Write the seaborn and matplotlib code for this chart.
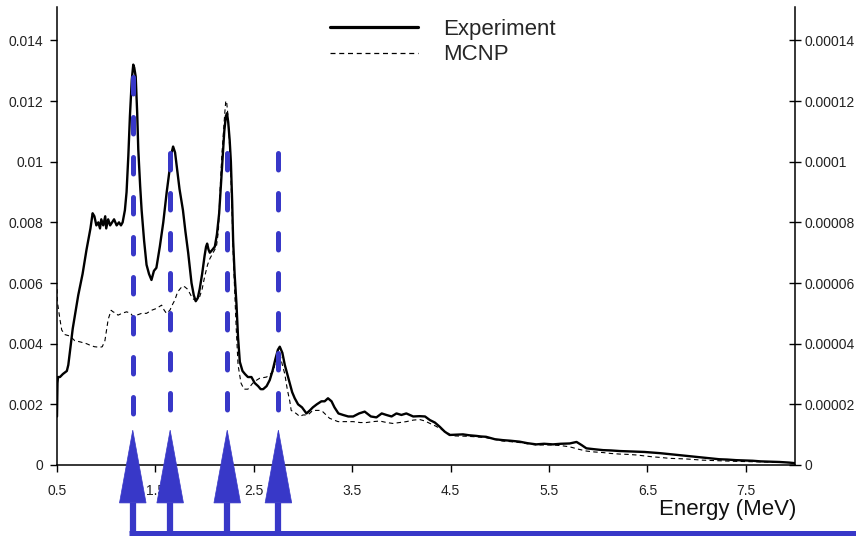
import matplotlib
matplotlib.use("Agg")
import matplotlib.pyplot as plt
import pandas as pd
import seaborn as sns
from matplotlib.patches import Polygon
from matplotlib.lines import Line2D

# ---------------- data ----------------
exp_energy = [
    0.50, 0.505, 0.51, 0.53, 0.56, 0.60, 0.615, 0.66, 0.716, 0.76,
    0.80, 0.84, 0.862, 0.88, 0.90, 0.92, 0.937, 0.95, 0.97, 0.99,
    1.00, 1.02, 1.04, 1.06, 1.08, 1.106, 1.13, 1.15, 1.167, 1.19,
    1.207, 1.225, 1.241, 1.26, 1.275, 1.285, 1.30, 1.315, 1.326, 1.345,
    1.36, 1.385, 1.41, 1.435, 1.46, 1.485, 1.51, 1.545, 1.58, 1.615,
    1.647, 1.665, 1.68, 1.70, 1.715, 1.745, 1.78, 1.805, 1.833, 1.85,
    1.867, 1.89, 1.91, 1.93, 1.95, 1.975, 2.0, 2.015, 2.026, 2.04,
    2.053, 2.08, 2.104, 2.125, 2.148, 2.165, 2.182, 2.20, 2.216, 2.228,
    2.24, 2.255, 2.267, 2.28, 2.29, 2.305, 2.324, 2.34, 2.358, 2.385,
    2.41, 2.44, 2.476, 2.51, 2.544, 2.57, 2.595, 2.63, 2.662, 2.69,
    2.72, 2.745, 2.764, 2.79, 2.815, 2.84, 2.866, 2.89, 2.916, 2.95,
    2.99, 3.035, 3.07, 3.10, 3.14, 3.187, 3.22, 3.254, 3.29, 3.32,
    3.36, 3.407, 3.46, 3.51, 3.57, 3.627, 3.69, 3.746, 3.80, 3.847,
    3.90, 3.95, 4.00, 4.05, 4.12, 4.185, 4.24, 4.29, 4.34, 4.39,
    4.44, 4.49, 4.56, 4.625, 4.69, 4.76, 4.81, 4.86, 4.95, 5.03,
    5.11, 5.20, 5.28, 5.37, 5.45, 5.54, 5.62, 5.71, 5.78, 5.83,
    5.88, 5.96, 6.05, 6.13, 6.22, 6.30, 6.39, 6.47, 6.55, 6.63,
    6.72, 6.80, 6.89, 6.97, 7.06, 7.14, 7.23, 7.31, 7.40, 7.48,
    7.57, 7.65, 7.74, 7.84, 7.94, 8.00,
]
exp_counts = [
    0.0016, 0.0027, 0.0029, 0.0029, 0.0030, 0.0031, 0.0033, 0.0045, 0.0056, 0.0063,
    0.0071, 0.0078, 0.0083, 0.0082, 0.0079, 0.0080, 0.0078, 0.0081, 0.0079, 0.0082,
    0.0078, 0.0081, 0.0079, 0.0080, 0.0081, 0.0079, 0.0080, 0.0079, 0.0080, 0.0084,
    0.0090, 0.0102, 0.0115, 0.0127, 0.0132, 0.0131, 0.0128, 0.0116, 0.0104, 0.0092,
    0.0084, 0.0074, 0.0066, 0.0063, 0.0061, 0.0064, 0.0065, 0.0072, 0.0080, 0.0090,
    0.0098, 0.0103, 0.0105, 0.0103, 0.0099, 0.0091, 0.0084, 0.0077, 0.0070, 0.0065,
    0.0060, 0.0056, 0.0054, 0.0055, 0.0058, 0.0063, 0.0069, 0.0072, 0.0073, 0.0071,
    0.0070, 0.0071, 0.0072, 0.0076, 0.0083, 0.0092, 0.0101, 0.0110, 0.0115, 0.0116,
    0.0113, 0.0107, 0.0100, 0.0087, 0.0074, 0.0063, 0.0053, 0.0042, 0.0034, 0.0031,
    0.0030, 0.0029, 0.0029, 0.0027, 0.0026, 0.0025, 0.0025, 0.0026, 0.0028, 0.0031,
    0.0035, 0.0038, 0.0039, 0.0037, 0.0033, 0.0030, 0.0027, 0.0024, 0.0022, 0.0020,
    0.0019, 0.0017, 0.0018, 0.0019, 0.0020, 0.0021, 0.0021, 0.0022, 0.0021, 0.0019,
    0.0017, 0.00165, 0.0016, 0.0016, 0.0017, 0.00176, 0.0016, 0.00157, 0.0017, 0.00165,
    0.0016, 0.0017, 0.00165, 0.0017, 0.0016, 0.00161, 0.0016, 0.00148, 0.0014, 0.00126,
    0.0011, 0.00099, 0.0010, 0.00101, 0.00098, 0.00096, 0.00094, 0.00093, 0.00085, 0.00082,
    0.00080, 0.00077, 0.00072, 0.00068, 0.00070, 0.00068, 0.00070, 0.00071, 0.00076, 0.00066,
    0.00055, 0.00052, 0.00049, 0.00048, 0.00046, 0.00045, 0.00044, 0.00043, 0.00041, 0.00039,
    0.00036, 0.00033, 0.00030, 0.00028, 0.00025, 0.00022, 0.00019, 0.00018, 0.00016, 0.00015,
    0.00014, 0.00012, 0.00011, 0.00010, 0.00008, 0.00006,
]

mcnp_energy = [
    0.50, 0.503, 0.53, 0.548, 0.58, 0.632, 0.68, 0.734, 0.80, 0.835,
    0.88, 0.937, 0.96, 0.987, 1.02, 1.05, 1.07, 1.10, 1.12, 1.16,
    1.207, 1.25, 1.27, 1.31, 1.36, 1.41, 1.46, 1.51, 1.563, 1.59,
    1.613, 1.647, 1.675, 1.698, 1.725, 1.749, 1.775, 1.80, 1.825, 1.85,
    1.875, 1.90, 1.925, 1.95, 1.975, 2.0, 2.03, 2.053, 2.087, 2.12,
    2.14, 2.155, 2.175, 2.19, 2.205, 2.215, 2.223, 2.235, 2.25, 2.265,
    2.28, 2.29, 2.305, 2.32, 2.34, 2.37, 2.40, 2.44, 2.49, 2.53,
    2.56, 2.63, 2.67, 2.70, 2.725, 2.747, 2.77, 2.79, 2.815, 2.84,
    2.866, 2.88, 2.93, 2.967, 3.0, 3.05, 3.10, 3.136, 3.17, 3.2,
    3.27, 3.356, 3.43, 3.51, 3.58, 3.645, 3.71, 3.78, 3.85, 3.914,
    3.98, 4.05, 4.12, 4.185, 4.24, 4.29, 4.35, 4.42, 4.52, 4.64,
    4.76, 4.86, 4.95, 5.03, 5.11, 5.20, 5.28, 5.37, 5.45, 5.54,
    5.62, 5.71, 5.80, 5.88, 5.96, 6.05, 6.13, 6.22, 6.30, 6.39,
    6.47, 6.55, 6.63, 6.72, 6.80, 6.89, 6.97, 7.06, 7.14, 7.23,
    7.31, 7.40, 7.48, 7.57, 7.65, 7.74, 7.84, 7.94, 8.00,
]
mcnp_flux = [
    5.8e-5, 5.4e-5, 4.8e-5, 4.45e-5, 4.3e-5, 4.25e-5, 4.1e-5, 4.06e-5, 4.0e-5, 3.95e-5,
    3.9e-5, 3.88e-5, 3.9e-5, 4.1e-5, 4.8e-5, 5.1e-5, 5.05e-5, 5.0e-5, 4.94e-5, 5.0e-5,
    5.05e-5, 5.0e-5, 4.9e-5, 4.94e-5, 5.0e-5, 5.0e-5, 5.1e-5, 5.16e-5, 5.27e-5, 5.1e-5,
    5.0e-5, 5.1e-5, 5.3e-5, 5.44e-5, 5.7e-5, 5.8e-5, 5.9e-5, 5.87e-5, 5.8e-5, 5.66e-5,
    5.5e-5, 5.44e-5, 5.5e-5, 5.55e-5, 5.8e-5, 6.2e-5, 6.6e-5, 6.8e-5, 7.0e-5, 7.2e-5,
    7.7e-5, 8.9e-5, 10.2e-5, 10.9e-5, 11.6e-5, 12.0e-5, 12.0e-5, 11.6e-5, 10.8e-5, 9.7e-5,
    8.2e-5, 7.0e-5, 5.8e-5, 4.6e-5, 3.3e-5, 2.7e-5, 2.5e-5, 2.5e-5, 2.7e-5, 2.8e-5,
    2.86e-5, 2.9e-5, 3.0e-5, 3.1e-5, 3.5e-5, 3.8e-5, 3.6e-5, 3.3e-5, 3.0e-5, 2.5e-5,
    2.1e-5, 1.8e-5, 1.7e-5, 1.6e-5, 1.65e-5, 1.65e-5, 1.8e-5, 1.8e-5, 1.8e-5, 1.76e-5,
    1.54e-5, 1.43e-5, 1.43e-5, 1.43e-5, 1.4e-5, 1.4e-5, 1.43e-5, 1.45e-5, 1.4e-5, 1.37e-5,
    1.4e-5, 1.43e-5, 1.48e-5, 1.5e-5, 1.45e-5, 1.37e-5, 1.28e-5, 1.15e-5, 0.96e-5, 0.95e-5,
    0.93e-5, 0.90e-5, 0.84e-5, 0.79e-5, 0.77e-5, 0.74e-5, 0.70e-5, 0.66e-5, 0.66e-5, 0.66e-5,
    0.64e-5, 0.60e-5, 0.52e-5, 0.46e-5, 0.43e-5, 0.41e-5, 0.38e-5, 0.36e-5, 0.35e-5, 0.33e-5,
    0.30e-5, 0.27e-5, 0.25e-5, 0.22e-5, 0.21e-5, 0.20e-5, 0.18e-5, 0.16e-5, 0.15e-5, 0.14e-5,
    0.13e-5, 0.12e-5, 0.115e-5, 0.11e-5, 0.105e-5, 0.10e-5, 0.09e-5, 0.08e-5, 0.07e-5,
]

peak_energies = [1.27, 1.65, 2.23, 2.75]
peak_line_tops = [0.0128, 0.0103, 0.0103, 0.0103]

series_labels = ["Experiment", "MCNP"]
x_label = "Energy (MeV)"
x_ticks = [0.5, 1.5, 2.5, 3.5, 4.5, 5.5, 6.5, 7.5]
x_tick_labels = ["0.5", "1.5", "2.5", "3.5", "4.5", "5.5", "6.5", "7.5"]
left_ticks = [0, 0.002, 0.004, 0.006, 0.008, 0.010, 0.012, 0.014]
left_tick_labels = ["0", "0.002", "0.004", "0.006", "0.008", "0.01", "0.012", "0.014"]
right_ticks = [0, 0.00002, 0.00004, 0.00006, 0.00008, 0.0001, 0.00012, 0.00014]
right_tick_labels = ["0", "0.00002", "0.00004", "0.00006", "0.00008", "0.0001",
                     "0.00012", "0.00014"]

assert len(exp_energy) == len(exp_counts)
assert len(mcnp_energy) == len(mcnp_flux)

# ---------------- styling ----------------
sns.set_theme(style="white")
plt.rcParams["font.family"] = ["Liberation Sans", "DejaVu Sans"]

BLUE = "#3838c8"
TICK_COLOR = "#222222"
W, H = 856, 536

fig = plt.figure(figsize=(W / 100, H / 100), dpi=100)
ax = fig.add_axes([57 / W, (H - 465) / H, (795 - 57) / W, (465 - 7) / H])
ax2 = ax.twinx()
ax.set_zorder(ax2.get_zorder() + 1)
ax.patch.set_visible(False)

exp_df = pd.DataFrame({"energy": exp_energy, "counts": exp_counts})
mcnp_df = pd.DataFrame({"energy": mcnp_energy, "flux": mcnp_flux})

sns.lineplot(data=mcnp_df, x="energy", y="flux", ax=ax2, color="black",
             linewidth=0.8, linestyle=(0, (4, 3)), legend=False)
sns.lineplot(data=exp_df, x="energy", y="counts", ax=ax, color="black",
             linewidth=1.7, legend=False)

ax.set_xlim(0.5, 8.0)
ax.set_ylim(0, 0.0151)
ax2.set_ylim(0, 0.000151)

ax.set_xticks(x_ticks, x_tick_labels)
ax.set_yticks(left_ticks, left_tick_labels)
ax2.set_yticks(right_ticks, right_tick_labels)
ax.set_xlabel("")
ax.set_ylabel("")
ax2.set_ylabel("")

for a in (ax, ax2):
    a.spines["top"].set_visible(False)
    for s in ("left", "right", "bottom"):
        a.spines[s].set_color("black")
        a.spines[s].set_linewidth(1.1)
ax.spines["right"].set_visible(False)
ax2.spines["left"].set_visible(False)
ax2.spines["bottom"].set_visible(False)

ax.tick_params(axis="x", which="both", bottom=True, direction="out", length=5,
               width=1, color="black", labelsize=10, labelcolor=TICK_COLOR, pad=9)
ax.tick_params(axis="y", which="both", left=True, direction="out", length=5,
               width=1, color="black", labelsize=10, labelcolor=TICK_COLOR, pad=5)
ax2.tick_params(axis="y", which="both", right=True, direction="inout", length=9,
                width=1, color="black", labelsize=10, labelcolor=TICK_COLOR, pad=2)

# ---------------- peak markers: dashed lines + arrows ----------------
arrow_tip = 0.00115
arrow_base = -0.00125
shaft_bottom = -0.00224
half_w = 0.135
for e, top in zip(peak_energies, peak_line_tops):
    ax.plot([e, e], [top, arrow_tip], color=BLUE, linewidth=3.6,
            linestyle=(0, (3.3, 4.7)), dash_capstyle="round", zorder=5, clip_on=False)
    ax.add_patch(Polygon([(e - half_w, arrow_base), (e + half_w, arrow_base), (e, arrow_tip)],
                         closed=True, facecolor=BLUE, edgecolor=BLUE, linewidth=0.5,
                         zorder=6, clip_on=False))
    ax.plot([e, e], [arrow_base, shaft_bottom], color=BLUE, linewidth=4.5,
            solid_capstyle="butt", zorder=6, clip_on=False)
ax.plot([peak_energies[0] - 0.035, 9.0], [shaft_bottom, shaft_bottom], color=BLUE,
        linewidth=3.6, solid_capstyle="butt", zorder=6, clip_on=False)

# ---------------- legend & axis title ----------------
handles = [Line2D([], [], color="black", linewidth=2.3),
           Line2D([], [], color="black", linewidth=0.9, linestyle=(0, (4, 3)))]
ax.legend(handles, series_labels, loc="upper left",
          bbox_to_anchor=(330 / W, 1 - 19 / H), bbox_transform=fig.transFigure,
          frameon=False, fontsize=16, handlelength=3.96, handletextpad=1.13,
          borderpad=0, borderaxespad=0, labelspacing=0.2)

fig.text(796 / W, 1 - 510 / H, x_label, ha="right", va="center", fontsize=16,
         color="#111111")

fig.savefig("out.png", dpi=100)
